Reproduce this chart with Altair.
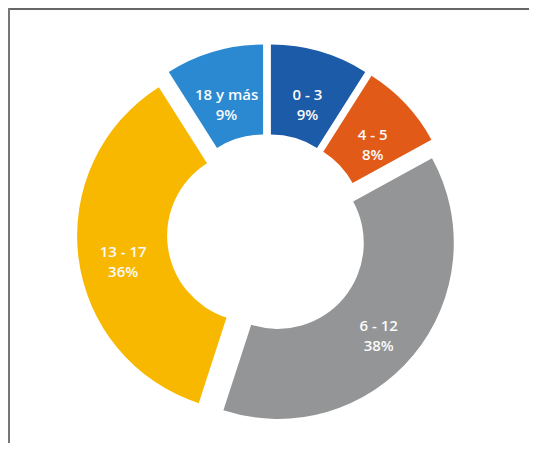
import altair as alt
import pandas as pd

# Data
categories = ["0 - 3", "4 - 5", "6 - 12", "13 - 17", "18 y más"]
values = [9, 8, 38, 36, 9]
colors = ["#1B5BA7", "#E15A17", "#949596", "#F8B800", "#2A89D1"]
order = [0, 1, 2, 3, 4]

df = pd.DataFrame({"cat": categories, "value": values, "ord": order})
df["pct"] = df["value"].astype(str) + "%"

# layout constants
W, H = 521, 435
CX, CY = 259, 226
R_OUT, R_IN = 176, 86
D = 14
R_LAB = (R_OUT + R_IN) / 2 + D

base = alt.Chart(df).transform_window(
    cum="sum(value)", sort=[alt.SortField("ord")], frame=[None, 0]
).transform_joinaggregate(
    total="sum(value)"
).transform_calculate(
    t1="datum.cum / datum.total * 2 * PI",
    t0="(datum.cum - datum.value) / datum.total * 2 * PI",
).transform_calculate(
    mid="(datum.t0 + datum.t1) / 2"
).transform_calculate(
    cx=f"{CX} + {D} * sin(datum.mid)",
    cy=f"{CY} - {D} * cos(datum.mid)",
    lx=f"{CX} + {R_LAB} * sin(datum.mid)",
    ly=f"{CY} - {R_LAB} * cos(datum.mid)",
    label="[datum.cat, datum.pct]",
)

arcs = base.mark_arc(innerRadius=R_IN, outerRadius=R_OUT, stroke=None).encode(
    x=alt.X("cx:Q", scale=None, axis=None),
    y=alt.Y("cy:Q", scale=None, axis=None),
    theta=alt.Theta("t0:Q", scale=None, stack=None),
    theta2="t1:Q",
    color=alt.Color("cat:N", scale=alt.Scale(domain=categories, range=colors), legend=None),
)

labels = base.mark_text(
    color="#FAFAFA", font="Open Sans", fontWeight=600, fontSize=15,
    align="center", baseline="middle", lineHeight=20,
).encode(
    x=alt.X("lx:Q", scale=None, axis=None),
    y=alt.Y("ly:Q", scale=None, axis=None),
    text="label:N",
)

frame_top = alt.Chart(df).mark_rule(color="#666666", strokeWidth=2).encode(
    x=alt.value(0), x2=alt.value(W), y=alt.value(1)
)
frame_left = alt.Chart(df).mark_rule(color="#777777", strokeWidth=2).encode(
    x=alt.value(1), y=alt.value(0), y2=alt.value(H)
)

chart = alt.layer(arcs, labels, frame_top, frame_left).properties(
    width=W, height=H, padding=0, autosize="none", background="white"
).configure_view(stroke=None)

chart.save("out.html", embed_options={"renderer": "svg", "actions": False})
